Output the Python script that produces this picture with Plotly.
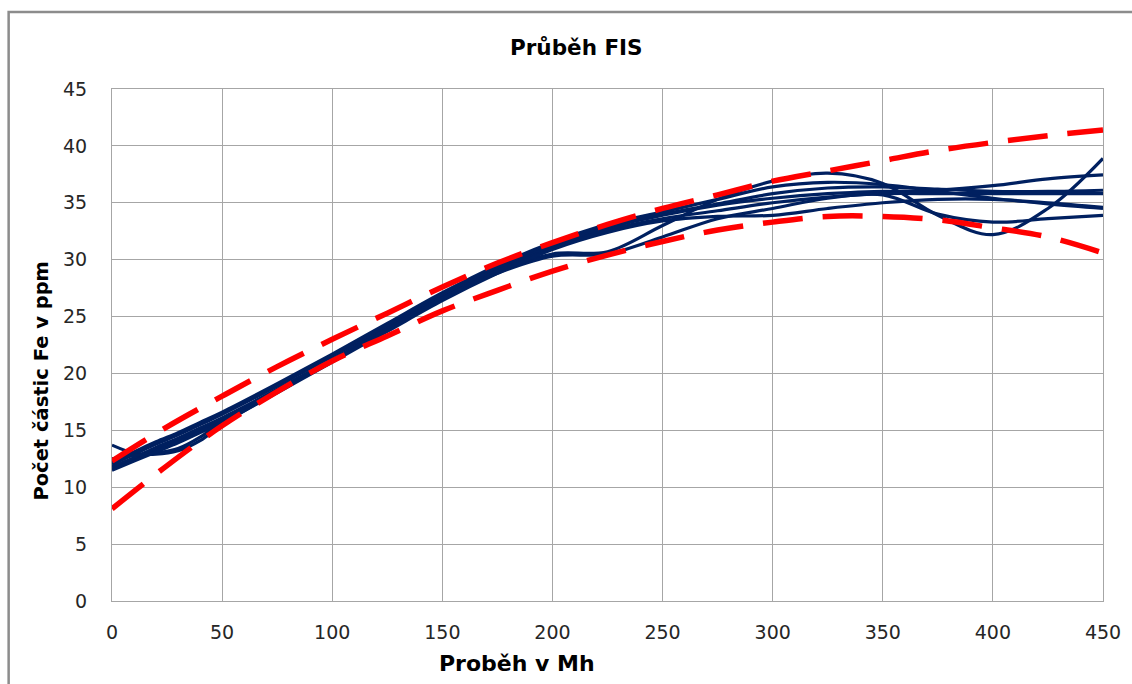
import plotly.graph_objects as go

# Running hours (Mh) at which each curve is sampled
hours = [0, 10, 20, 30, 40, 50, 75, 100, 125, 150, 175, 200, 225, 250,
         275, 300, 325, 350, 375, 400, 425, 450]

# Fe particle counts (ppm) for the individual FIS courses
fe_a = [13.7, 13.0, 12.9, 13.2, 14.1, 15.5, 18.4, 21.1, 23.9, 26.6, 28.9,
        30.5, 30.7, 33.0, 35.3, 36.9, 37.6, 36.7, 33.9, 32.2, 34.5, 38.9]
fe_b = [11.6, 12.4, 13.3, 14.1, 15.0, 15.9, 18.5, 21.2, 24.0, 26.8, 29.2,
        31.2, 32.8, 33.9, 34.8, 35.4, 35.8, 36.0, 36.1, 36.5, 37.1, 37.45]
fe_c = [12.0, 12.9, 13.8, 14.6, 15.5, 16.4, 18.9, 21.5, 24.2, 26.9, 29.3,
        31.3, 32.9, 34.0, 34.9, 35.8, 36.3, 36.4, 36.2, 36.0, 36.0, 36.1]
fe_d = [11.8, 12.6, 13.5, 14.3, 15.2, 16.1, 18.6, 21.2, 23.9, 26.6, 29.0,
        31.0, 32.6, 33.6, 34.3, 35.0, 35.5, 35.8, 35.8, 35.8, 35.8, 35.8]
fe_e = [12.2, 13.1, 14.0, 14.8, 15.7, 16.6, 19.1, 21.7, 24.4, 27.1, 29.5,
        31.5, 33.1, 34.2, 35.3, 36.4, 36.8, 36.6, 36.0, 35.4, 34.9, 34.5]
fe_f = [12.5, 12.8, 13.0, 13.4, 14.4, 15.8, 18.6, 21.2, 23.9, 26.6, 28.8,
        30.3, 30.5, 32.0, 33.6, 34.5, 35.4, 35.7, 34.0, 33.3, 33.6, 33.9]
fe_g = [11.5, 12.3, 13.1, 13.9, 14.8, 15.7, 18.3, 21.0, 23.7, 26.4, 28.8,
        30.9, 32.4, 33.4, 33.8, 33.9, 34.5, 35.0, 35.3, 35.3, 35.0, 34.6]
courses = [fe_a, fe_b, fe_c, fe_d, fe_e, fe_f, fe_g]

# Upper and lower limit curves
limit_hours = [0, 25, 50, 75, 100, 125, 150, 175, 200, 225, 250, 275, 300,
               325, 350, 375, 400, 425, 450]
limit_upper = [12.3, 15.3, 18.0, 20.6, 23.0, 25.3, 27.6, 29.7, 31.5, 33.1,
               34.5, 35.7, 36.9, 37.8, 38.7, 39.6, 40.3, 40.9, 41.4]
limit_lower = [8.1, 11.9, 15.4, 18.4, 21.1, 23.3, 25.5, 27.3, 29.0, 30.4,
               31.6, 32.6, 33.3, 33.8, 33.8, 33.5, 32.8, 32.0, 30.6]

x_ticks = [0, 50, 100, 150, 200, 250, 300, 350, 400, 450]
y_ticks = [0, 5, 10, 15, 20, 25, 30, 35, 40, 45]

NAVY = "#002060"
RED = "#FF0000"
GRID = "#a6a6a6"
FONT = "DejaVu Sans"

fig = go.Figure()

for ys in courses:
    fig.add_trace(go.Scatter(
        x=hours, y=ys, mode="lines",
        line=dict(color=NAVY, width=3.2, shape="spline", smoothing=1.0),
        showlegend=False, hoverinfo="skip"))

for ys in (limit_upper, limit_lower):
    fig.add_trace(go.Scatter(
        x=limit_hours, y=ys, mode="lines",
        line=dict(color=RED, width=5.5, dash="40px,20px",
                  shape="spline", smoothing=1.0),
        showlegend=False, hoverinfo="skip"))

axis_common = dict(
    showgrid=True, gridcolor=GRID, gridwidth=1,
    showline=True, linecolor=GRID, linewidth=1, mirror=True,
    zeroline=False, ticks="",
    tickfont=dict(family=FONT, size=19, color="#262626"),
)

fig.update_xaxes(range=[0, 450], tickvals=x_ticks, ticklabelstandoff=14,
                 **axis_common)
fig.update_yaxes(range=[0, 45], tickvals=y_ticks, ticklabelstandoff=20,
                 **axis_common)

# Outer chart frame (right and bottom edges run past the page)
fig.add_shape(type="rect", xref="paper", yref="paper",
              x0=-0.1043, x1=1.2, y0=-0.2, y1=1.1504,
              line=dict(color="#8c8c8c", width=2.5), layer="below")

fig.add_annotation(text="<b>Průběh FIS</b>", xref="paper", yref="paper",
                   x=(576 - 111.5) / 992, y=1 + (89.3 - 48) / 511.4,
                   showarrow=False,
                   font=dict(family=FONT, size=21.5, color="#000000"),
                   xanchor="center", yanchor="middle")
fig.add_annotation(text="<b>Proběh v Mh</b>", xref="paper", yref="paper",
                   x=(517 - 111.5) / 992, y=-(663 - 600.7) / 511.4,
                   showarrow=False,
                   font=dict(family=FONT, size=22, color="#000000"),
                   xanchor="center", yanchor="middle")
fig.add_annotation(text="<b>Počet částic Fe v ppm</b>", xref="paper",
                   yref="paper", x=(40 - 111.5) / 992,
                   y=(600.7 - 381) / 511.4, textangle=-90,
                   showarrow=False,
                   font=dict(family=FONT, size=19.5, color="#000000"),
                   xanchor="center", yanchor="middle")

fig.update_layout(
    width=1132, height=684,
    margin=dict(l=111.5, r=28.5, t=89.3, b=83.3),
    paper_bgcolor="white", plot_bgcolor="white",
    showlegend=False,
)

fig.write_html("out.html")
